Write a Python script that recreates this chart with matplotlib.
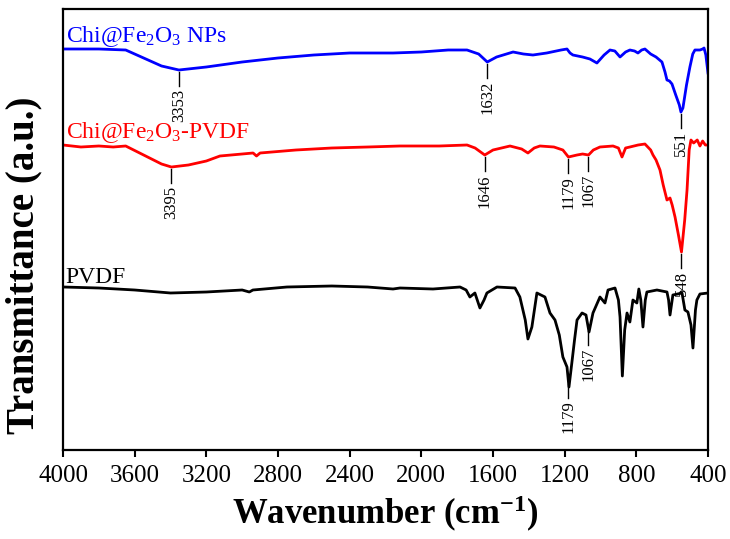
import matplotlib
matplotlib.use('Agg')
import matplotlib.pyplot as plt
import numpy as np

plt.rcParams['font.family'] = ['Liberation Serif', 'DejaVu Serif']
plt.rcParams['mathtext.fontset'] = 'custom'
plt.rcParams['mathtext.rm'] = 'Liberation Serif'
plt.rcParams['mathtext.it'] = 'Liberation Serif:italic'
plt.rcParams['mathtext.bf'] = 'Liberation Serif:bold'

# FTIR spectra, transmittance in arbitrary units (offset stacked)
wn_np = [4000, 3800, 3650, 3550, 3450, 3353, 3200, 3000, 2800, 2600, 2400, 2158, 2000,
         1850, 1745, 1680, 1632, 1580, 1488, 1430, 1377, 1300, 1220, 1187, 1170, 1154,
         1100, 1059, 1020, 980, 947, 920, 891, 860, 836, 810, 791, 770, 752, 720, 690,
         657, 640, 629, 615, 601, 580, 560, 551, 540, 520, 501, 485, 473, 445, 430, 422,
         412, 400]
t_np = [401, 401, 400, 392, 384, 380, 383, 388, 392, 395, 397, 397, 398,
        400, 400, 396, 388, 393, 398, 396, 395, 397, 400, 401, 397, 395,
        393, 391, 387, 395, 400, 399, 393, 398, 400, 399, 397, 400, 401, 396, 393,
        388, 378, 370, 369, 366, 355, 345, 338, 342, 365, 383, 396, 400, 400, 401, 402,
        395, 377]

wn_comp = [4000, 3900, 3800, 3720, 3650, 3550, 3450, 3395, 3300, 3200, 3124, 3000, 2939,
           2920, 2900, 2700, 2500, 2300, 2119, 1900, 1745, 1700, 1646, 1600, 1505, 1440,
           1405, 1370, 1338, 1260, 1210, 1179, 1131, 1100, 1067, 1040, 1003, 930, 900,
           880, 860, 836, 790, 752, 720, 707, 690, 668, 650, 629, 612, 600, 584, 565, 548,
           530, 517, 505, 495, 480, 460, 445, 430, 415, 400]
t_comp = [305, 303, 304, 303, 304, 295, 286, 283, 285, 289, 294, 296, 297,
          294, 297, 300, 302, 303, 304, 304, 305, 302, 295, 300, 304, 301,
          297, 302, 304, 303, 300, 293, 295, 296, 295, 300, 303, 304, 302,
          293, 302, 303, 305, 306, 300, 295, 290, 280, 265, 250, 252, 245, 233, 215, 198,
          230, 260, 300, 310, 307, 310, 304, 309, 305, 305]

wn_pvdf = [4000, 3800, 3600, 3400, 3200, 3000, 2960, 2940, 2750, 2500, 2300, 2158, 2119,
           1935, 1784, 1750, 1729, 1701, 1673, 1650, 1634, 1578, 1477, 1450, 1420, 1405,
           1383, 1355, 1310, 1282, 1254, 1230, 1210, 1187, 1176, 1160, 1145, 1131, 1103,
           1081, 1064, 1042, 1003, 975, 958, 919, 900, 891, 878, 865, 852, 836, 819, 797,
           786, 775, 763, 750, 741, 685, 629, 620, 612, 596, 545, 529, 512, 495, 484, 470,
           462, 445, 400]
t_pvdf = [163, 162, 160, 157, 158, 160, 158, 160, 163, 164, 163, 161, 162,
          161, 163, 160, 153, 157, 142, 150, 157, 163, 162, 153, 130, 111,
          123, 157, 153, 137, 130, 115, 93, 83, 63, 87, 110, 130, 137,
          135, 118, 137, 153, 147, 160, 162, 150, 133, 74, 120, 137, 128, 150, 147,
          161, 150, 123, 150, 158, 160, 158, 150, 135, 155, 157, 140, 138, 125, 102, 140,
          150, 156, 157]

names = ['Chi@Fe$_2$O$_3$ NPs', 'Chi@Fe$_2$O$_3$-PVDF', 'PVDF']
colors = ['#0000ff', '#ff0000', '#000000']
name_y = [408, 312, 167]

# peak labels: (series index, wavenumber)
peaks = [(0, 3353), (0, 1632), (0, 551),
         (1, 3395), (1, 1646), (1, 1179), (1, 1067), (1, 548),
         (2, 1179), (2, 1067)]

fig = plt.figure(figsize=(7.3, 5.39), dpi=100)
ax = fig.add_axes([63 / 730, 89 / 539, 645 / 730, 441 / 539])

series = [(wn_np, t_np), (wn_comp, t_comp), (wn_pvdf, t_pvdf)]
for (w, t), c, nm, ny in zip(series, colors, names, name_y):
    ax.plot(w, t, color=c, lw=2.0)
    ax.text(3985, ny, nm, color=c, fontsize=17, va='baseline', ha='left')

for i, p in peaks:
    w = np.array(series[i][0])[::-1]
    t = np.array(series[i][1])[::-1]
    y0 = np.interp(p, w, t)
    ax.plot([p, p], [y0 - 2, y0 - 16], color='black', lw=1.0)
    ax.text(p, y0 - 19, str(p), rotation=90, ha='center', va='top', fontsize=12)

ax.set_xlim(4000, 400)
ax.set_ylim(0, 441)
ax.set_xticks(np.arange(4000, 399, -400))
ax.set_yticks([])
ax.tick_params(axis='x', direction='out', length=5, width=1.5, labelsize=18, pad=6)
for s in ax.spines.values():
    s.set_linewidth(1.6)

ax.set_xlabel('Wavenumber (cm$^{\\mathbf{-1}}$)', fontsize=25, fontweight='bold', labelpad=5)
fig.text(24 / 730, 1 - 265 / 539, 'Transmittance (a.u.)', rotation=90, fontsize=28,
         fontweight='bold', ha='center', va='center')

fig.savefig('out.png', dpi=100)
